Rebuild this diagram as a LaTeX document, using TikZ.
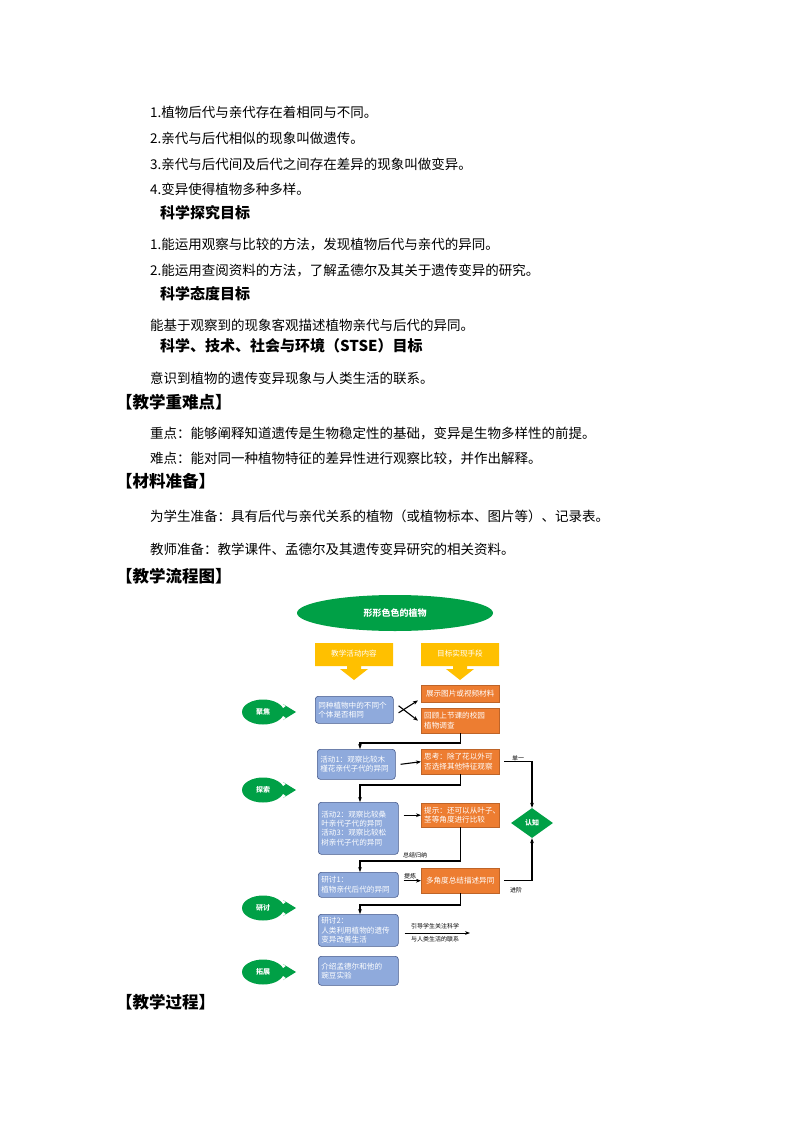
\documentclass[tikz,border=0pt]{standalone}
\usepackage{fontspec}
\setmainfont{Noto Sans CJK SC}
\usetikzlibrary{shapes.geometric,arrows.meta}
\definecolor{fgreen}{RGB}{0,160,70}
\definecolor{fblue}{RGB}{143,170,220}
\definecolor{fblued}{RGB}{70,90,140}
\definecolor{forange}{RGB}{237,125,49}
\definecolor{forangeb}{RGB}{190,100,40}
\definecolor{fyellow}{RGB}{255,192,0}
\begin{document}
\begin{tikzpicture}[x=1pt,y=-1pt,
  body/.style={anchor=west,inner sep=0,font=\fontsize{13.5}{14}\selectfont},
  head/.style={anchor=west,inner sep=0,font=\fontsize{15}{16}\selectfont\bfseries},
  sect/.style={anchor=west,inner sep=0,font=\fontsize{16.5}{17}\selectfont\bfseries},
  bluebox/.style={draw=fblued,fill=fblue,rounded corners=3pt,line width=0.6pt,text=white,font=\fontsize{7.6}{9.4}\selectfont,align=left,anchor=north west,inner sep=2pt},
  orbox/.style={fill=forange,draw=forangeb,text=white,font=\fontsize{7.6}{9.4}\selectfont,align=left,inner sep=2pt},
  gr/.style={fill=fgreen,text=white,font=\fontsize{7}{8}\selectfont\bfseries},
  ar/.style={line width=1.1pt,-{Stealth[length=5pt]}},
  lbl/.style={font=\fontsize{6}{7}\selectfont,inner sep=0}]
\useasboundingbox (0,0) rectangle (794,1123);
\fill[white] (0,0) rectangle (794,1123);
\node[body] (t1) at (150,112) {1.植物后代与亲代存在着相同与不同。};
\node[body] (t2) at (150,138) {2.亲代与后代相似的现象叫做遗传。};
\node[body] (t3) at (150,164) {3.亲代与后代间及后代之间存在差异的现象叫做变异。};
\node[body] (t4) at (150,189) {4.变异使得植物多种多样。};
\node[head] (h1) at (160,213) {科学探究目标};
\node[body] (t5) at (150,245) {1.能运用观察与比较的方法，发现植物后代与亲代的异同。};
\node[body] (t6) at (150,270) {2.能运用查阅资料的方法，了解孟德尔及其关于遗传变异的研究。};
\node[head] (h2) at (160,294) {科学态度目标};
\node[body] (t7) at (150,325) {能基于观察到的现象客观描述植物亲代与后代的异同。};
\node[head] (h3) at (160,346) {科学、技术、社会与环境（STSE）目标};
\node[body] (t8) at (150,378) {意识到植物的遗传变异现象与人类生活的联系。};
\node[sect] (s1) at (116,402) {【教学重难点】};
\node[body] (t9) at (150,433) {重点：能够阐释知道遗传是生物稳定性的基础，变异是生物多样性的前提。};
\node[body] (t10) at (150,459) {难点：能对同一种植物特征的差异性进行观察比较，并作出解释。};
\node[sect] (s2) at (116,481) {【材料准备】};
\node[body] (t11) at (150,516) {为学生准备：具有后代与亲代关系的植物（或植物标本、图片等）、记录表。};
\node[body] (t12) at (150,549) {教师准备：教学课件、孟德尔及其遗传变异研究的相关资料。};
\node[sect] (s3) at (116,576) {【教学流程图】};
\node[sect] (s4) at (116,1002) {【教学过程】};
% title ellipse
\node[ellipse,gr,minimum width=196,minimum height=36,font=\fontsize{9}{10}\selectfont\bfseries] (top) at (395,613) {形形色色的植物};
% yellow arrow boxes (callout with downward arrow)
\foreach \x/\t/\n in {315/教学活动内容/ya,421/目标实现手段/yb}{
  \fill[fyellow] (\x,643) -- (\x+78,643) -- (\x+78,666) -- (\x+46,666) -- (\x+46,669) -- (\x+53,669) -- (\x+39,680) -- (\x+25,669) -- (\x+32,669) -- (\x+32,666) -- (\x,666) -- cycle;
  \node[text=white,font=\fontsize{7.6}{8}\selectfont] (\n) at (\x+39,654) {\t};
}
% left column
\node[bluebox,minimum width=78,minimum height=27,text width=72] (b1) at (315,696) {同种植物中的不同个\\个体是否相同};
\node[bluebox,minimum width=78,minimum height=30,text width=72] (b2) at (317,749) {活动1：观察比较木\\槿花亲代子代的异同};
\node[bluebox,minimum width=80,minimum height=52,text width=74] (b3) at (318,802) {活动2：观察比较桑\\叶亲代子代的异同\\活动3：观察比较松\\树亲代子代的异同};
\node[bluebox,minimum width=80,minimum height=25,text width=74] (b4) at (318,872) {研讨1：\\植物亲代后代的异同};
\node[bluebox,minimum width=80,minimum height=32,text width=74] (b5) at (318,914) {研讨2：\\人类利用植物的遗传\\变异改善生活};
\node[bluebox,minimum width=80,minimum height=29,text width=74] (b6) at (318,956) {介绍孟德尔和他的\\豌豆实验};
% right column
\node[orbox,minimum width=78,minimum height=17,anchor=north west] (o1) at (421,685) {展示图片或视频材料};
\node[orbox,minimum width=78,minimum height=25,anchor=north west,text width=72] (o2) at (421,708) {回顾上节课的校园\\植物调查};
\node[orbox,minimum width=78,minimum height=25,anchor=north west,text width=72] (o3) at (421,749) {思考：除了花以外可\\否选择其他特征观察};
\node[orbox,minimum width=78,minimum height=24,anchor=north west,text width=72] (o4) at (421,803) {提示：还可以从叶子、\\茎等角度进行比较};
\node[orbox,minimum width=78,minimum height=25,anchor=north west] (o5) at (421,868) {多角度总结描述异同};
\node[diamond,gr,minimum width=42,minimum height=30,inner sep=0] (d) at (532,823) {认知};
% fish
\foreach \y/\t/\n in {712/聚焦/f1,790/探索/f2,908/研讨/f3,972/拓展/f4}{
  \fill[fgreen] (278,\y) -- (286,\y-6) -- (283,\y-8) -- (296,\y) -- (283,\y+8) -- (286,\y+6) -- cycle;
  \node[ellipse,gr,minimum width=42,minimum height=25,inner sep=0] (\n) at (263,\y) {\t};
}
% connectors
\draw[ar] ([xshift=5pt,yshift=-3pt]b1.east) -- ([xshift=-3pt,yshift=2pt]o1.south west);
\draw[ar] ([xshift=5pt,yshift=4pt]b1.east) -- ([xshift=-3pt]o2.west);
\draw[ar] (o2.south) -- (o2.south |- 0,743) -| (b2.north -| 360,0);
\draw[ar] ([xshift=5pt]b2.east) -- (o3.west);
\draw[ar] ([xshift=5pt]o3.east) -| (d.north);
\node[lbl] (l1) at (518,758) {单一};
\draw[ar] (o3.south) -- (o3.south |- 0,785) -| (b3.north -| 360,0);
\draw[ar] ([xshift=5pt]b3.east |- o4.west) -- (o4.west);
\draw[ar] (o4.south) -- (o4.south |- 0,861) -| (b4.north -| 360,0);
\node[lbl] (l2) at (415,855) {总结归纳};
\draw[ar] ([xshift=5pt]b4.east |- o5.west) -- (o5.west);
\node[lbl] (l3) at (410,876) {提炼};
\draw[ar] ([xshift=5pt]o5.east) -| (d.south);
\node[lbl] (l4) at (516,890) {进阶};
\draw[ar] (o5.south) -- (o5.south |- 0,905) -| (b5.north -| 360,0);
\coordinate (e5) at (470,933);
\draw[ar,line width=0.8pt] ([xshift=6pt]b5.east |- e5) -- (e5);
\node[lbl] (l5) at (435,926) {引导学生关注科学};
\node[lbl] (l6) at (435,939) {与人类生活的联系};
\end{tikzpicture}
\end{document}
